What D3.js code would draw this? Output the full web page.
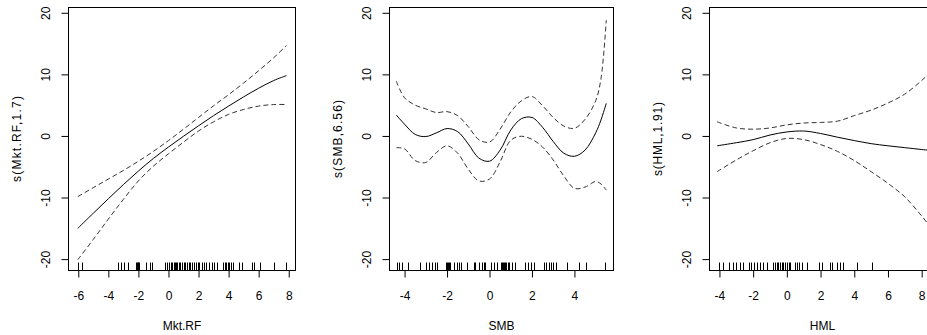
<!DOCTYPE html>
<html>
<head>
<meta charset="utf-8">
<script src="https://cdn.jsdelivr.net/npm/d3@7"></script>
<style>
  html, body { margin: 0; padding: 0; background: #fff; }
  svg { display: block; }
  text { font-family: "Liberation Sans", Arial, sans-serif; fill: #000; }
</style>
</head>
<body>
<svg id="chart" width="927" height="335"></svg>
<script>
// ---------- data ----------
const mktX     = [-6.03, -5, -4, -3, -2, -1, 0, 1, 2, 3, 4, 5, 6, 7, 7.85];
const mktFit   = [-15.0, -12.55, -10.2, -7.9, -5.7, -3.65, -1.8, -0.05, 1.65, 3.3, 4.85, 6.35, 7.75, 9.0, 9.8];
const mktUpper = [-9.85, -8.4, -7.0, -5.6, -4.1, -2.5, -0.75, 1.1, 3.0, 4.9, 6.7, 8.6, 10.6, 12.7, 14.7];
const mktLower = [-20.1, -16.8, -13.5, -10.3, -7.3, -4.9, -2.9, -1.0, 0.8, 2.3, 3.5, 4.3, 4.85, 5.1, 5.1];
const mktRug   = [-6.03, -5.74, -3.37, -3.19, -2.97, -2.7, -2.14, -2.1, -2.05, -2.0, -1.96, -1.5, -1.2, -1.08,
                  -0.2, -0.1, 0.05, 0.15, 0.25, 0.35, 0.45, 0.5, 0.6, 0.7, 0.8, 0.9, 1.0, 1.1, 1.2, 1.35, 1.45,
                  1.55, 1.7, 1.8, 1.95, 2.05, 2.2, 2.35, 2.5, 2.7, 2.9, 3.05, 3.25, 3.6, 3.75, 3.85, 3.95, 4.05,
                  4.15, 4.3, 4.7, 4.92, 5.56, 5.67, 6.07, 7.0, 7.85];

const smbX     = [-4.39, -4, -3.5, -3, -2.5, -2, -1.5, -1, -0.5, 0, 0.5, 1, 1.5, 2, 2.5, 3, 3.5, 4, 4.5, 5, 5.25, 5.5];
const smbFit   = [3.4, 1.9, 0.25, -0.1, 0.5, 1.2, 0.7, -1.3, -3.6, -4.1, -2.3, 0.95, 2.8, 3.0, 1.4, -0.9, -2.8, -3.3, -2.3, 0.5, 2.6, 5.3];
const smbUpper = [8.9, 6.2, 5.0, 4.4, 3.8, 3.95, 3.3, 1.5, -0.6, -1.0, 1.1, 3.9, 5.7, 6.4, 4.9, 3.0, 1.6, 1.25, 2.7, 5.7, 9.3, 18.8];
const smbLower = [-1.9, -2.1, -4.0, -4.3, -2.7, -1.6, -2.8, -5.4, -7.3, -7.0, -4.2, -0.7, -0.05, -0.55, -1.8, -3.9, -6.5, -8.5, -8.3, -7.4, -7.8, -8.8];
const smbRug   = [-4.34, -4.24, -4.14, -3.83, -3.28, -3.0, -2.85, -2.7, -2.55, -2.45, -2.05, -2.0, -1.95, -1.9, -1.85,
                  -1.68, -1.55, -1.44, -1.32, -1.05, -0.74, -0.66, -0.5, -0.34, -0.27, -0.19, 0.09, 0.2, 0.36, 0.52,
                  0.6, 0.65, 0.7, 0.75, 0.8, 0.85, 0.9, 1.07, 1.22, 1.66, 1.83, 1.97, 2.09, 2.56, 2.68, 2.8, 2.9,
                  3.0, 3.11, 3.66, 4.2, 4.56, 5.46];

const hmlX     = [-4.14, -3, -2, -1, 0, 1, 2, 3, 4, 5, 6, 7, 8, 8.35];
const hmlFit   = [-1.6, -1.1, -0.6, 0.15, 0.65, 0.8, 0.4, -0.2, -0.75, -1.25, -1.6, -1.9, -2.2, -2.3];
const hmlUpper = [2.3, 1.3, 1.1, 1.3, 1.8, 2.1, 2.2, 2.4, 3.3, 4.2, 5.35, 6.8, 9.0, 9.9];
const hmlLower = [-5.8, -3.9, -2.4, -1.1, -0.4, -0.6, -1.4, -2.5, -4.0, -5.8, -7.7, -9.9, -13.0, -14.2];
const hmlRug   = [-4.04, -3.78, -3.45, -3.21, -2.99, -2.76, -2.62, -2.26, -2.1, -1.93, -1.75, -1.57, -1.39, -1.17,
                  -0.82, -0.7, -0.6, -0.5, -0.4, -0.3, -0.2, -0.1, 0.0, 0.1, 0.2, 0.5, 0.6, 0.7, 0.9, 1.2,
                  1.88, 2.08, 2.58, 2.68, 2.97, 3.17, 3.31, 4.16, 5.05, 8.3];

const mktTicks = [-6, -4, -2, 0, 2, 4, 6, 8];
const smbTicks = [-4, -2, 0, 2, 4];
const hmlTicks = [-4, -2, 0, 2, 4, 6, 8];
const yTicks   = [-20, -10, 0, 10, 20];

const xTitles = ["Mkt.RF", "SMB", "HML"];
const yTitles = ["s(Mkt.RF,1.7)", "s(SMB,6.56)", "s(HML,1.91)"];

// ---------- layout ----------
const panels = [
  { x: mktX, fit: mktFit, up: mktUpper, lo: mktLower, rug: mktRug, ticks: mktTicks,
    left: 68.5, right: 295.5, domain: [-6.65, 8.45], ytl: 86 },
  { x: smbX, fit: smbFit, up: smbUpper, lo: smbLower, rug: smbRug, ticks: smbTicks,
    left: 389.5, right: 613.5, domain: [-4.71, 5.84], ytl: 78 },
  { x: hmlX, fit: hmlFit, up: hmlUpper, lo: hmlLower, rug: hmlRug, ticks: hmlTicks,
    left: 709.5, right: 935.5, domain: [-4.59, 8.82], ytl: 74 }
];
const plotTop = 7.5, plotBottom = 270.5;

const svg = d3.select("#chart");
svg.append("rect").attr("width", 927).attr("height", 335).attr("fill", "#fff");

const y = d3.scaleLinear().domain([-21.85, 20.86]).range([plotBottom, plotTop]);

panels.forEach((p, i) => {
  const x = d3.scaleLinear().domain(p.domain).range([p.left, p.right]);
  const g = svg.append("g");

  const cid = "clip" + i;
  svg.append("clipPath").attr("id", cid).append("rect")
    .attr("x", p.left).attr("y", plotTop).attr("width", p.right - p.left).attr("height", plotBottom - plotTop);

  const line = d3.line().x(d => x(d[0])).y(d => y(d[1])).curve(d3.curveCatmullRom.alpha(0.5));
  const cg = g.append("g").attr("clip-path", `url(#${cid})`);
  cg.append("path").datum(p.x.map((v, k) => [v, p.fit[k]]))
    .attr("d", line).attr("fill", "none").attr("stroke", "#000").attr("stroke-width", 1);
  [p.up, p.lo].forEach(arr => {
    cg.append("path").datum(p.x.map((v, k) => [v, arr[k]]))
      .attr("d", line).attr("fill", "none").attr("stroke", "#333")
      .attr("stroke-width", 1).attr("stroke-dasharray", "5,3");
  });

  // rug
  g.append("g").selectAll("line").data(p.rug).join("line")
    .attr("x1", d => Math.round(x(d)) + 0.5).attr("x2", d => Math.round(x(d)) + 0.5)
    .attr("y1", plotBottom).attr("y2", plotBottom - 8)
    .attr("stroke", "#000").attr("stroke-width", 1);

  // x axis
  const xa = g.append("g").attr("transform", `translate(0,${plotBottom})`)
    .call(d3.axisBottom(x).tickValues(p.ticks).tickSize(7).tickSizeOuter(0));
  xa.select(".domain").attr("stroke", "#000")
    .attr("d", `M${x(p.ticks[0])},0H${x(p.ticks[p.ticks.length - 1])}`);
  xa.selectAll(".tick line").attr("stroke", "#000");
  xa.selectAll(".tick text").attr("y", 29).attr("dy", null)
    .attr("font-size", 12).attr("fill", "#000")
    .attr("font-family", "Liberation Sans, Arial, sans-serif")
    .text(d => (d < 0 ? "-" + Math.abs(d) : String(d)));

  // y axis
  const ya = g.append("g").attr("transform", `translate(${p.left},0)`)
    .call(d3.axisLeft(y).tickValues(yTicks).tickSize(7).tickSizeOuter(0));
  ya.select(".domain").attr("stroke", "#000")
    .attr("d", `M0,${y(-20)}V${y(20)}`);
  ya.selectAll(".tick line").attr("stroke", "#000");
  ya.selectAll(".tick text")
    .attr("x", 0).attr("y", -18.3).attr("dy", null)
    .attr("transform", "rotate(-90)")
    .attr("text-anchor", "middle")
    .attr("font-size", 12).attr("fill", "#000")
    .attr("font-family", "Liberation Sans, Arial, sans-serif")
    .text(d => (d < 0 ? "-" + Math.abs(d) : String(d)));

  // box
  g.append("rect").attr("x", p.left).attr("y", plotTop)
    .attr("width", p.right - p.left).attr("height", plotBottom - plotTop)
    .attr("fill", "none").attr("stroke", "#000").attr("stroke-width", 1);

  // titles
  const cx = (p.left + p.right) / 2;
  g.append("text").attr("x", cx).attr("y", 329.5).attr("text-anchor", "middle")
    .attr("font-size", 12).text(xTitles[i]);
  const cyT = (plotTop + plotBottom) / 2;
  g.append("text")
    .attr("transform", `translate(${p.left - 47.5},${cyT}) rotate(-90)`)
    .attr("text-anchor", "middle").attr("font-size", 12)
    .attr("textLength", p.ytl).attr("lengthAdjust", "spacing")
    .text(yTitles[i]);
});
</script>
</body>
</html>
